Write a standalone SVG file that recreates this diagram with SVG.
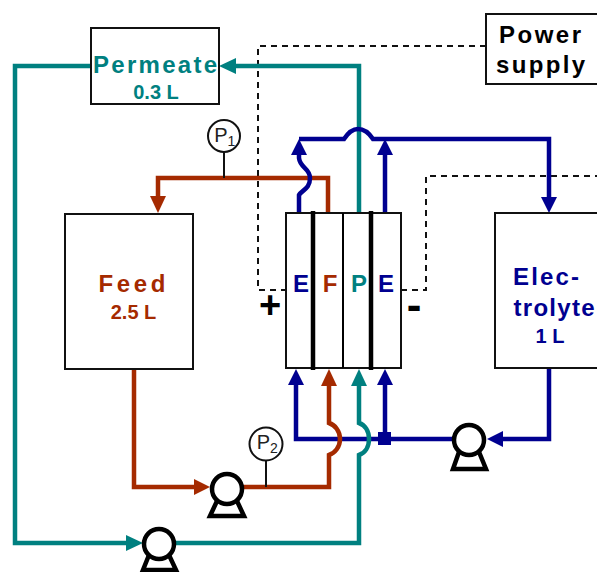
<svg xmlns="http://www.w3.org/2000/svg" width="597" height="572" viewBox="0 0 597 572">
<style>
text{font-family:"Liberation Sans",Arial,sans-serif;font-weight:700;text-anchor:middle}
.box{fill:#fff;stroke:#111;stroke-width:2}
.pipe{fill:none;stroke-width:4.500;stroke-linejoin:miter}
.teal{stroke:#008080}.tealf{fill:#008080}
.red{stroke:#a52a00}.redf{fill:#a52a00}
.blue{stroke:#000090}.bluef{fill:#000090}
.dash{fill:none;stroke:#111;stroke-width:2;stroke-dasharray:6 5}
.stem{fill:none;stroke:#111;stroke-width:2}
.gauge{fill:#fff;stroke:#111;stroke-width:2}
text.gt{font-weight:400;fill:#222}
.pump circle{fill:#fff;stroke:#000;stroke-width:4.500}
.pump path{fill:#fff;stroke:#000;stroke-width:4.500}
</style>
<rect width="597" height="572" fill="#fff"/>
<g id="connectors">
<path class="dash" d="M486 46H258V290H286"/>
<path class="dash" d="M401 290H426V176H597"/>
<path class="pipe teal" d="M91 66H15V543H128"/>
<path class="pipe teal" d="M359 213V66H234"/>
<polygon class="tealf" points="219,66 236,58 236,74"/>
<path class="pipe blue" d="M296 385V439H378"/>
<polygon class="bluef" points="296,369 288,385 304,385"/>
<path class="pipe teal" d="M175 543H359V455C365 453 369 447 369 439C369 431 365 425 359 423V385"/>
<polygon class="tealf" points="359,369 351,386 367,386"/>
<polygon class="tealf" points="143,543 126,535 126,551"/>
<path class="pipe red" d="M328 213V178H158V198"/>
<polygon class="redf" points="158,213 150,196 166,196"/>
<path class="pipe red" d="M134 369V487H196"/>
<polygon class="redf" points="210,487 194,479 194,495"/>
<path class="pipe red" d="M243 487H329V455C335 453 340 447 340 439C340 431 335 425 329 423V385"/>
<polygon class="redf" points="329,369 321,386 337,386"/>
<path class="pipe blue" d="M385 385V439"/>
<polygon class="bluef" points="385,369 377,385 393,385"/>
<rect class="bluef" x="378" y="432" width="13" height="13"/>
<path class="pipe blue" d="M391 439H455"/>
<path class="pipe blue" d="M549 368V439H502"/>
<polygon class="bluef" points="487,439 503,431 503,447"/>
<path class="pipe blue" d="M299 213V195C302 190 310 189 310 178C310 168 300 168 299 158V153"/>
<polygon class="bluef" points="299,139 291,155 307,155"/>
<path class="pipe blue" d="M299 139H344C348 133 352 129 358 129C364 129 369 133 373 139H549V198"/>
<polygon class="bluef" points="549,213 541,197 557,197"/>
<path class="pipe blue" d="M385 213V153"/>
<polygon class="bluef" points="385,139 377,155 393,155"/>
<path class="stem" d="M224 152V178"/>
<path class="stem" d="M266 461V487"/>
</g>
<g id="permeate"><rect class="box" x="91" y="28" width="128" height="76"/>
<text x="155" y="73" font-size="24" class="tealf" textLength="124" lengthAdjust="spacing">Permeate</text>
<text x="156" y="99" font-size="20" class="tealf">0.3 L</text></g>
<g id="power-supply"><rect class="box" x="486" y="14" width="120" height="70"/>
<text x="540" y="43" font-size="24" fill="#000" textLength="82" lengthAdjust="spacing">Power</text>
<text x="540.500" y="73" font-size="24" fill="#000" textLength="89" lengthAdjust="spacing">supply</text></g>
<g id="feed"><rect class="box" x="65" y="214" width="128" height="155"/>
<text x="132" y="292" font-size="24" class="redf" textLength="67" lengthAdjust="spacing">Feed</text>
<text x="133.500" y="319" font-size="20" class="redf">2.5 L</text></g>
<g id="electrolyte"><rect class="box" x="495" y="213" width="115" height="155"/>
<text x="546" y="285" font-size="24" class="bluef" textLength="66" lengthAdjust="spacing">Elec-</text>
<text x="554" y="316" font-size="24" class="bluef" textLength="81" lengthAdjust="spacing">trolyte</text>
<text x="550" y="343" font-size="20" class="bluef">1 L</text></g>
<g id="stack"><rect class="box" x="286" y="213" width="115" height="155"/>
<path d="M313 211V370M371 211V370" stroke="#000" stroke-width="4.500"/>
<path d="M343 213V368" stroke="#000" stroke-width="2"/>
<text x="301" y="292" font-size="24" class="bluef">E</text>
<text x="330" y="292" font-size="24" class="redf">F</text>
<text x="359" y="292" font-size="24" class="tealf">P</text>
<text x="386" y="292" font-size="24" class="bluef">E</text></g>
<g id="plus"><text x="270" y="318" font-size="38" fill="#000">+</text></g>
<g id="minus"><text x="414" y="320" font-size="44" fill="#000">-</text></g>
<g id="p1"><circle class="gauge" cx="224" cy="136" r="16"/>
<text class="gt" x="221" y="142" font-size="20">P</text><text class="gt" x="231.500" y="146" font-size="14">1</text></g>
<g id="p2"><circle class="gauge" cx="266" cy="444" r="16.500"/>
<text class="gt" x="263.500" y="449" font-size="20">P</text><text class="gt" x="274" y="453" font-size="14">2</text></g>
<g id="pump-feed" class="pump"><path d="M217 501L210 516H244L237 501Z"/><circle cx="227" cy="489" r="15"/></g>
<g id="pump-permeate" class="pump"><path d="M149 555L143 570H176L169 555Z"/><circle cx="159" cy="544" r="15"/></g>
<g id="pump-electrolyte" class="pump"><path d="M459 452L453 469H486L479 452Z"/><circle cx="469" cy="440" r="15"/></g>
</svg>
